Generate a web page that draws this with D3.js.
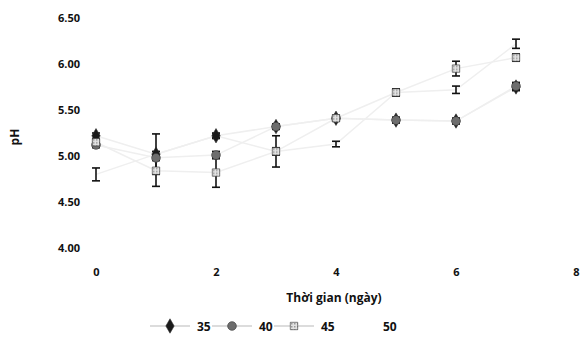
<!DOCTYPE html>
<html>
<head>
<meta charset="utf-8">
<script src="https://cdn.jsdelivr.net/npm/d3@7"></script>
<style>
  body { margin: 0; background: #fff; }
  svg text { font-family: "Open Sans", "DejaVu Sans", sans-serif; font-weight: 700; fill: #111; }
</style>
</head>
<body>
<div id="chart"></div>
<script>
(function () {
    'use strict';

    // ngày đo
    const days = [0, 1, 2, 3, 4, 5, 6, 7];
    const seriesNames = ['35', '40', '45', '50'];

    const ph35 = [5.22, 5.02, 5.22, 5.32, 5.41, 5.39, 5.38, 5.75];
    const ph40 = [5.12, 4.98, 5.01, 5.32, 5.41, 5.39, 5.38, 5.76];
    const ph45 = [5.15, 4.84, 4.82, 5.05, 5.41, 5.69, 5.95, 6.07];
    const ph50 = [4.80, 5.02, 5.22, 5.05, 5.13, 5.69, 5.72, 6.22];

    const err35 = [0.03, 0.22, 0.02, 0.03, 0.03, 0.03, 0.03, 0.04];
    const err40 = [0.03, 0.03, 0.04, 0.03, 0.03, 0.03, 0.03, 0.04];
    const err45 = [0.03, 0.17, 0.16, 0.17, 0.03, 0.04, 0.08, 0.04];
    const err50 = [0.07, 0.03, 0.03, 0.04, 0.03, 0.04, 0.04, 0.05];

    const xTicks = [0, 2, 4, 6, 8];
    const yTicks = [4.0, 4.5, 5.0, 5.5, 6.0, 6.5];

    const series = [
        { name: seriesNames[0], values: ph35, errs: err35, shape: d3.symbolDiamond, fill: '#1a1a1a', size: 60 },
        { name: seriesNames[1], values: ph40, errs: err40, shape: d3.symbolCircle, fill: '#6d6d6d', size: 60 },
        { name: seriesNames[2], values: ph45, errs: err45, shape: d3.symbolSquare, fill: 'url(#hatch)', size: 55 },
        { name: seriesNames[3], values: ph50, errs: err50, shape: d3.symbolTriangle, fill: 'none', size: 50 }
    ];

    const W = 581, H = 360;
    const svg = d3.select('#chart').append('svg').attr('width', W).attr('height', H);

    const defs = svg.append('defs');
    const pat = defs.append('pattern').attr('id', 'hatch').attr('patternUnits', 'userSpaceOnUse')
        .attr('width', 3).attr('height', 3);
    pat.append('rect').attr('width', 3).attr('height', 3).attr('fill', '#e2e2e2');
    pat.append('rect').attr('width', 1.5).attr('height', 1.5).attr('fill', '#9a9a9a');

    const xScale = d3.scaleLinear().domain([0, 8]).range([96, 576]);
    const yScale = d3.scaleLinear().domain([4, 6.5]).range([248, 18]);

    const xAxis = d3.axisBottom(xScale).tickValues(xTicks).tickSize(0).tickPadding(20).tickFormat(d3.format('d'));
    const yAxis = d3.axisLeft(yScale).tickValues(yTicks).tickSize(0).tickPadding(4).tickFormat(d3.format('.2f'));

    svg.append('g').attr('class', 'xaxis').attr('transform', 'translate(0,248)').call(xAxis)
        .call(function (g) { g.select('.domain').remove(); })
        .selectAll('text').style('font-size', '11px').attr('fill', '#111');
    svg.append('g').attr('class', 'yaxis').attr('transform', 'translate(84,0)').call(yAxis)
        .call(function (g) { g.select('.domain').remove(); })
        .selectAll('text').style('font-size', '11px').attr('fill', '#111');

    svg.append('text').attr('transform', 'translate(19,137) rotate(-90)')
        .style('text-anchor', 'middle').style('font-size', '12px').text('pH');
    svg.append('text').attr('x', 334).attr('y', 302)
        .style('text-anchor', 'middle').style('font-size', '12px').text('Thời gian (ngày)');

    const line = d3.line()
        .x(function (d, i) { return xScale(days[i]); })
        .y(function (d) { return yScale(d); });

    const plot = svg.append('g');

    series.forEach(function (s) {
        plot.append('path').datum(s.values).attr('d', line)
            .attr('fill', 'none').attr('stroke', '#efefef').attr('stroke-width', 1.5);
    });

    series.forEach(function (s) {
        const g = plot.append('g');
        s.values.forEach(function (v, i) {
            const x = xScale(days[i]);
            const y1 = yScale(v + s.errs[i]);
            const y2 = yScale(v - s.errs[i]);
            g.append('line').attr('x1', x).attr('x2', x).attr('y1', y1).attr('y2', y2)
                .attr('stroke', '#111').attr('stroke-width', 1.6);
            g.append('line').attr('x1', x - 4).attr('x2', x + 4).attr('y1', y1).attr('y2', y1)
                .attr('stroke', '#111').attr('stroke-width', 1.6);
            g.append('line').attr('x1', x - 4).attr('x2', x + 4).attr('y1', y2).attr('y2', y2)
                .attr('stroke', '#111').attr('stroke-width', 1.6);
        });
    });

    series.forEach(function (s) {
        plot.selectAll(null).data(s.values).enter().append('path')
            .attr('d', d3.symbol().type(s.shape).size(s.size))
            .attr('transform', function (d, i) {
                return 'translate(' + xScale(days[i]) + ',' + yScale(d) + ')';
            })
            .attr('fill', s.fill)
            .attr('stroke', s.name === '50' ? 'none' : '#333').attr('stroke-width', 0.6);
    });

    // chú thích
    const legend = svg.append('g').attr('transform', 'translate(150,326)');
    series.forEach(function (s, i) {
        const lg = legend.append('g').attr('transform', 'translate(' + (i * 62) + ',0)');
        lg.append('line').attr('x1', 0).attr('x2', 40).attr('y1', 0).attr('y2', 0)
            .attr('stroke', s.name === '50' ? '#fff' : '#d0d0d0').attr('stroke-width', 1.5);
        lg.append('path').attr('d', d3.symbol().type(s.shape).size(s.size))
            .attr('transform', 'translate(20,0)')
            .attr('fill', s.fill).attr('stroke', s.name === '50' ? 'none' : '#333').attr('stroke-width', 0.6);
        lg.append('text').attr('x', 47).attr('y', 5).style('font-size', '12px')
            .text(s.name);
    });
}());
</script>
</body>
</html>
